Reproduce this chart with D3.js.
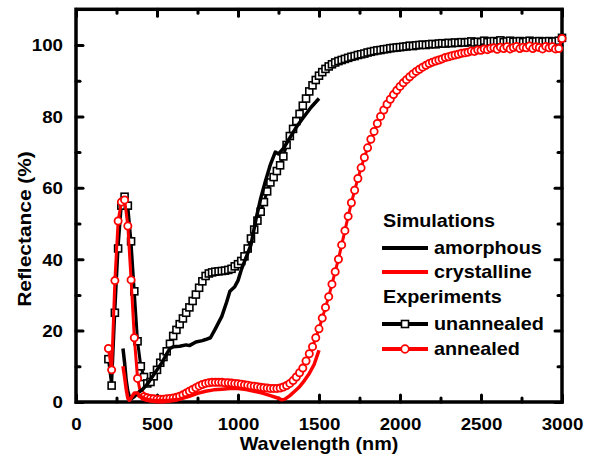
<!DOCTYPE html>
<html>
<head>
  <meta charset="utf-8">
  <title>Reflectance vs wavelength</title>
  <script src="https://d3js.org/d3.v7.min.js"></script>
  <style>
    body { margin: 0; background: #fff; }
    text { font-family: "Liberation Sans", Arial, sans-serif; font-weight: bold; fill: #000; }
    .frame { fill: none; stroke: #000; stroke-width: 3.5px; }
    .tick line { stroke: #000; stroke-width: 3px; stroke-linecap: round; }
    .domain { display: none; }
  </style>
</head>
<body>
<div id="chart"></div>
<script>

// simulated curves [wavelength nm, reflectance %]
var simAmorphous = [
  [290,15],[300,11],[310,6],[320,3],[330,1.5],[345,1],[360,1.5],[380,2.5],[410,3.5],[440,5],
  [470,7],[500,9],[530,11],[560,13.5],[580,15],[600,15.5],[640,15.6],[680,16],[700,15.8],[740,16.8],
  [780,17.2],[800,17.5],[830,18],[860,20.5],[900,24],[930,28],[950,31],[980,32.3],[1000,34],[1020,37],
  [1050,40.5],[1080,44],[1110,51],[1140,57],[1170,62],[1200,66.5],[1230,70],[1250,69.5],[1280,71],[1320,74],
  [1360,77],[1400,79.5],[1450,82.5],[1500,85]
];

var simCrystalline = [
  [290,10],[300,7],[310,3.5],[320,1],[330,0.5],[345,1.5],[360,2.5],[380,2.5],[400,1.5],[430,0.8],
  [470,0.5],[520,0.4],[580,0.5],[640,0.8],[700,1.6],[750,2.4],[800,3],[850,3.4],[900,3.6],[950,3.8],
  [1000,3.8],[1050,3.5],[1100,3],[1150,2.5],[1200,1.8],[1240,1.2],[1270,0.6],[1290,0.8],[1320,1.8],[1350,3],
  [1380,4.3],[1410,6],[1440,8],[1470,10.5],[1500,14.5]
];

// measured curves [wavelength nm, reflectance %]
var expUnannealed = [
  [200,12],[220,4.6],[240,25],[260,43],[280,55],[300,57.5],[320,55],[340,45],[360,31],[380,17],
  [400,10],[420,7],[440,5.2],[460,5.6],[480,7.2],[500,9],[520,11],[540,12.6],[560,14.2],[580,16.3],
  [600,18.5],[620,20.2],[640,21.8],[660,23.4],[680,25],[700,26.5],[720,28.3],[740,30.1],[760,32],[780,33.8],
  [800,35.3],[820,36],[840,36.3],[860,36.5],[880,36.6],[900,36.7],[920,36.8],[940,37],[960,37.3],[980,38],
  [1000,38.6],[1020,39.5],[1040,40.8],[1060,43],[1080,45.8],[1100,48.3],[1120,50.8],[1140,53.3],[1160,56],[1180,59],
  [1200,61.5],[1220,63],[1240,64.7],[1260,66.3],[1280,68.8],[1300,72],[1320,74.5],[1340,76.5],[1360,78.7],[1380,80.7],
  [1400,83],[1420,85],[1440,87],[1460,88.7],[1480,90.2],[1500,91.4],[1520,92.4],[1540,93.3],[1560,94],[1580,94.6],
  [1600,95.1],[1620,95.5],[1640,95.8],[1660,96.1],[1680,96.4],[1700,96.7],[1720,96.9],[1740,97.2],[1760,97.4],[1780,97.6],
  [1800,97.9],[1820,98.1],[1840,98.3],[1860,98.5],[1880,98.6],[1900,98.8],[1920,98.9],[1940,99.1],[1960,99.2],[1980,99.3],
  [2000,99.4],[2020,99.5],[2040,99.6],[2060,99.8],[2080,99.7],[2100,99.9],[2120,100],[2140,100.1],[2160,100],[2180,100.2],
  [2200,100.3],[2220,100.2],[2240,100.4],[2260,100.5],[2280,100.4],[2300,100.6],[2320,100.5],[2340,100.7],[2360,100.6],[2380,100.8],
  [2400,100.7],[2420,100.8],[2440,101],[2460,100.7],[2480,100.9],[2500,100.8],[2520,101.2],[2540,100.8],[2560,101],[2580,101.1],
  [2600,100.9],[2620,101.3],[2640,100.8],[2660,101],[2680,101.2],[2700,100.9],[2720,101],[2740,101.1],[2760,100.8],[2780,101],
  [2800,101.2],[2820,100.9],[2840,101],[2860,101.1],[2880,100.9],[2900,101],[2920,101.1],[2940,100.9],[2960,101],[2980,101.2],
  [3000,102]
];

var expAnnealed = [
  [200,15],[220,9],[240,34],[260,50.7],[280,56],[300,56.6],[320,49.3],[340,34.2],[360,18],[380,6.6],
  [400,2.2],[420,1.5],[440,1.2],[460,1],[480,0.9],[500,0.8],[520,0.8],[540,0.8],[560,0.9],[580,1],
  [600,1.1],[620,1.3],[640,1.6],[660,2],[680,2.5],[700,3],[720,3.5],[740,4],[760,4.5],[780,4.9],
  [800,5.2],[820,5.4],[840,5.5],[860,5.5],[880,5.5],[900,5.5],[920,5.4],[940,5.4],[960,5.3],[980,5.2],
  [1000,5.1],[1020,5],[1040,4.8],[1060,4.7],[1080,4.5],[1100,4.4],[1120,4.3],[1140,4.1],[1160,4],[1180,3.9],
  [1200,3.8],[1220,3.8],[1240,3.8],[1260,3.9],[1280,4.2],[1300,4.6],[1320,5.2],[1340,6],[1360,7],[1380,8.2],
  [1400,9.5],[1420,11.5],[1440,13.5],[1460,15.5],[1480,18],[1500,20.5],[1520,23.5],[1540,26.5],[1560,29.5],[1580,33],
  [1600,36.5],[1620,40],[1640,44],[1660,48],[1680,52],[1700,55.8],[1720,59.3],[1740,62.6],[1760,65.6],[1780,68.5],
  [1800,71.2],[1820,73.6],[1840,75.8],[1860,78],[1880,80],[1900,81.8],[1920,83.4],[1940,84.8],[1960,86.1],[1980,87.3],
  [2000,88.4],[2020,89.4],[2040,90.3],[2060,91.1],[2080,91.9],[2100,92.6],[2120,93.2],[2140,93.8],[2160,94.3],[2180,94.8],
  [2200,95.2],[2220,95.5],[2240,95.8],[2260,96.1],[2280,96.5],[2300,96.7],[2320,97],[2340,97.2],[2360,97.4],[2380,97.7],
  [2400,97.8],[2420,98],[2440,98.3],[2460,98.2],[2480,98.6],[2500,98.5],[2520,98.9],[2540,98.7],[2560,99.1],[2580,99.2],
  [2600,98.8],[2620,99.4],[2640,99],[2660,99.5],[2680,98.9],[2700,99.3],[2720,99.6],[2740,99],[2760,99.4],[2780,99.2],
  [2800,99.7],[2820,99],[2840,99.5],[2860,99.3],[2880,98.9],[2900,99.6],[2920,99.2],[2940,99.5],[2960,98.9],[2980,99],
  [3000,101.8]
];

var xMajorTicks = [0, 500, 1000, 1500, 2000, 2500, 3000];
var xMinorTicks = [250, 750, 1250, 1750, 2250, 2750];
var yMajorTicks = [0, 20, 40, 60, 80, 100];
var yMinorTicks = [10, 30, 50, 70, 90];

var xTitle = "Wavelength (nm)";
var yTitle = "Reflectance (%)";

var width = 596, height = 462;
var stretch = 1.1; // text in the figure is a bit wide

var svg = d3.select("#chart").append("svg")
  .attr("width", width).attr("height", height);

var x = d3.scaleLinear().domain([0, 3000]).range([76, 562]);
var y = d3.scaleLinear().domain([0, 110]).range([402, 9.3]);

//ticks, all pointing inward
function addAxis(axis, tr, labels) {
  var g = svg.append("g").attr("transform", tr).call(axis);
  if (!labels) g.selectAll("text").remove();
  return g;
}

var xb = addAxis(d3.axisBottom(x).tickValues(xMajorTicks).tickSizeInner(-7).tickSizeOuter(0).tickPadding(16).tickFormat(d3.format("d")),
  "translate(0," + y(0) + ")", true);
xb.selectAll("text").attr("font-size", 17).attr("transform", "scale(" + stretch + ",1)");
addAxis(d3.axisBottom(x).tickValues(xMinorTicks).tickSize(-4), "translate(0," + y(0) + ")");
addAxis(d3.axisTop(x).tickValues(xMajorTicks).tickSize(-7), "translate(0," + y(110) + ")");
addAxis(d3.axisTop(x).tickValues(xMinorTicks).tickSize(-4), "translate(0," + y(110) + ")");

var yl = addAxis(d3.axisLeft(y).tickValues(yMajorTicks).tickSizeInner(-7).tickSizeOuter(0).tickFormat(d3.format("d")),
  "translate(" + x(0) + ",0)", true);
yl.selectAll("text").attr("font-size", 17).attr("x", -13 / stretch).attr("dy", "0.35em")
  .attr("transform", "scale(" + stretch + ",1)");
addAxis(d3.axisLeft(y).tickValues(yMinorTicks).tickSize(-4), "translate(" + x(0) + ",0)");
addAxis(d3.axisRight(y).tickValues(yMajorTicks).tickSize(-7), "translate(" + x(3000) + ",0)");
addAxis(d3.axisRight(y).tickValues(yMinorTicks).tickSize(-4), "translate(" + x(3000) + ",0)");

//frame
svg.append("rect").attr("class", "frame")
  .attr("x", x(0)).attr("y", y(110))
  .attr("width", x(3000) - x(0)).attr("height", y(0) - y(110));

var line = d3.line().x(function(d) { return x(d[0]); }).y(function(d) { return y(d[1]); });

//measured: lines + markers
svg.append("path").datum(expUnannealed).attr("d", line)
  .attr("fill", "none").attr("stroke", "#000").attr("stroke-width", 3).attr("stroke-linejoin", "round");
svg.append("g").selectAll("rect").data(expUnannealed).enter().append("rect")
  .attr("x", function(d) { return x(d[0]) - 3.5; })
  .attr("y", function(d) { return y(d[1]) - 3.5; })
  .attr("width", 7).attr("height", 7)
  .attr("fill", "#fff").attr("stroke", "#000").attr("stroke-width", 1.6);

svg.append("path").datum(expAnnealed).attr("d", line)
  .attr("fill", "none").attr("stroke", "#f00").attr("stroke-width", 3).attr("stroke-linejoin", "round");
svg.append("g").selectAll("circle").data(expAnnealed).enter().append("circle")
  .attr("cx", function(d) { return x(d[0]); })
  .attr("cy", function(d) { return y(d[1]); })
  .attr("r", 3.6)
  .attr("fill", "#fff").attr("stroke", "#f00").attr("stroke-width", 1.8);

//simulations
svg.append("path").datum(simAmorphous).attr("d", line)
  .attr("fill", "none").attr("stroke", "#000").attr("stroke-width", 3.5).attr("stroke-linejoin", "round");
svg.append("path").datum(simCrystalline).attr("d", line)
  .attr("fill", "none").attr("stroke", "#f00").attr("stroke-width", 3.5).attr("stroke-linejoin", "round");

//legend
var legend = [
  { label: "Simulations", y: 227 },
  { label: "amorphous", y: 254, color: "#000", lineY: 248 },
  { label: "crystalline", y: 278, color: "#f00", lineY: 272 },
  { label: "Experiments", y: 303 },
  { label: "unannealed", y: 330, color: "#000", lineY: 324, marker: "square" },
  { label: "annealed", y: 355, color: "#f00", lineY: 349, marker: "circle" }
];
legend.forEach(function(d) {
  var tx = d.color ? 434 : 383;
  svg.append("text").attr("font-size", 18)
    .attr("transform", "translate(" + tx + "," + d.y + ") scale(" + stretch + ",1)")
    .text(d.label);
  if (!d.color) return;
  svg.append("line").attr("x1", 382).attr("x2", 428).attr("y1", d.lineY).attr("y2", d.lineY)
    .attr("stroke", d.color).attr("stroke-width", 4);
  if (d.marker === "square")
    svg.append("rect").attr("x", 405 - 3.5).attr("y", d.lineY - 3.5).attr("width", 7).attr("height", 7)
      .attr("fill", "#fff").attr("stroke", d.color).attr("stroke-width", 1.6);
  if (d.marker === "circle")
    svg.append("circle").attr("cx", 405).attr("cy", d.lineY).attr("r", 3.8)
      .attr("fill", "#fff").attr("stroke", d.color).attr("stroke-width", 1.8);
});

//axis titles
svg.append("text").attr("font-size", 18).attr("text-anchor", "middle")
  .attr("transform", "translate(319,450) scale(" + stretch + ",1)")
  .text(xTitle);
svg.append("text").attr("font-size", 19).attr("text-anchor", "middle")
  .attr("transform", "translate(31,229) rotate(-90) scale(" + stretch + ",1)")
  .text(yTitle);

</script>
</body>
</html>
